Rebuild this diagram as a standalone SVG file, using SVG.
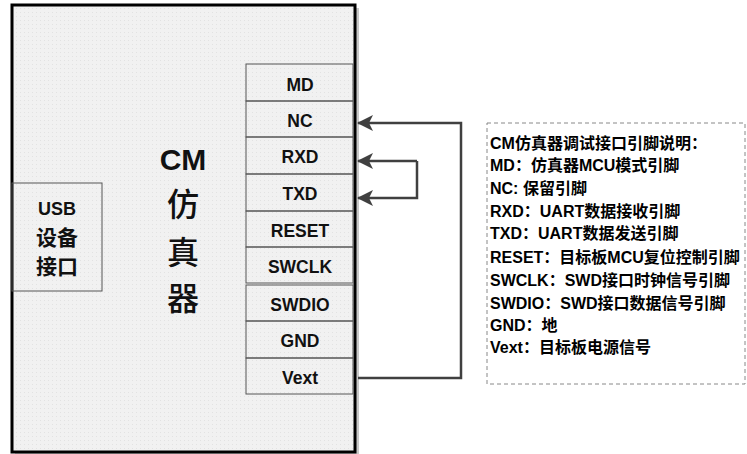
<svg xmlns="http://www.w3.org/2000/svg" width="747" height="454" viewBox="0 0 747 454">
<defs>
<style>
.pin{fill:none;stroke:#555;stroke-width:1}
.pt{font-family:"Liberation Sans","Noto Sans CJK SC",sans-serif;font-weight:bold;font-size:17.5px;fill:#111;text-anchor:middle}
.big{font-family:"Liberation Sans","Noto Sans CJK SC",sans-serif;font-weight:bold;font-size:30px;fill:#111;text-anchor:middle}
.cj{font-family:"Noto Sans CJK SC",sans-serif;font-weight:500;font-size:32px;fill:#111;text-anchor:middle}
.usb{font-family:"Liberation Sans","Noto Sans CJK SC",sans-serif;font-weight:bold;font-size:18px;fill:#111;text-anchor:middle}
.usbc{font-family:"Noto Sans CJK SC",sans-serif;font-weight:bold;font-size:21px;fill:#111;text-anchor:middle}
.lg{font-family:"Liberation Sans","Noto Sans CJK SC",sans-serif;font-weight:bold;font-size:16px;fill:#000}
.wire{fill:none;stroke:#404040;stroke-width:2.5}
</style>
<marker id="ah" viewBox="0 0 16 16" refX="15" refY="8" markerWidth="16" markerHeight="16" markerUnits="userSpaceOnUse" orient="auto">
<path d="M0,0 L16,8 L0,16 L4,8 Z" fill="#404040"/>
</marker>
<pattern id="dots" width="4" height="4" patternUnits="userSpaceOnUse">
<rect width="4" height="4" fill="#f1f1f1"/>
<rect width="1" height="1" fill="#e2e2e2"/>
</pattern>
</defs>
<g id="emulator">
<rect x="15" y="8" width="344" height="446" fill="#c8c8c8"/>
<rect x="12" y="5" width="343" height="447" fill="url(#dots)" stroke="#000" stroke-width="3"/>
<text class="big" x="183" y="170">CM</text>
<text class="cj" x="183" y="216">仿</text>
<text class="cj" x="183" y="264">真</text>
<text class="cj" x="183" y="310">器</text>
</g>
<g id="usb">
<rect x="12" y="183" width="90" height="108" fill="none" stroke="#555" stroke-width="1"/>
<text class="usb" x="57" y="215">USB</text>
<text class="usbc" x="57" y="245">设备</text>
<text class="usbc" x="57" y="274">接口</text>
</g>
<g id="pin-MD"><rect class="pin" x="246" y="64" width="107" height="37"/><text class="pt" x="300" y="91">MD</text></g>
<g id="pin-NC"><rect class="pin" x="246" y="101" width="107" height="36"/><text class="pt" x="300" y="127">NC</text></g>
<g id="pin-RXD"><rect class="pin" x="246" y="137" width="107" height="37"/><text class="pt" x="300" y="163">RXD</text></g>
<g id="pin-TXD"><rect class="pin" x="246" y="174" width="107" height="37"/><text class="pt" x="300" y="200">TXD</text></g>
<g id="pin-RESET"><rect class="pin" x="246" y="211" width="107" height="36"/><text class="pt" x="300" y="237">RESET</text></g>
<g id="pin-SWCLK"><rect class="pin" x="246" y="247" width="107" height="36"/><text class="pt" x="300" y="273">SWCLK</text></g>
<g id="pin-SWDIO"><rect class="pin" x="246" y="285" width="107" height="36"/><text class="pt" x="300" y="311">SWDIO</text></g>
<g id="pin-GND"><rect class="pin" x="246" y="321" width="107" height="37"/><text class="pt" x="300" y="347">GND</text></g>
<g id="pin-Vext"><rect class="pin" x="246" y="358" width="107" height="36"/><text class="pt" x="300" y="384">Vext</text></g>
<g id="connectors">
<path class="wire" d="M358,378 L461,378 L461,123 L358,123" marker-end="url(#ah)"/>
<path class="wire" d="M417,161 L417,198 L358,198" marker-end="url(#ah)"/>
<path class="wire" d="M417,161 L358,161" marker-end="url(#ah)"/>
</g>
<g id="legend">
<rect x="487" y="123" width="258" height="261" fill="#fff" stroke="#888" stroke-width="1" stroke-dasharray="4,3"/>
<text class="lg" x="490" y="149">CM仿真器调试接口引脚说明：</text>
<text class="lg" x="490" y="171">MD：仿真器MCU模式引脚</text>
<text class="lg" x="490" y="194">NC: 保留引脚</text>
<text class="lg" x="490" y="217">RXD：UART数据接收引脚</text>
<text class="lg" x="490" y="239">TXD：UART数据发送引脚</text>
<text class="lg" x="490" y="263">RESET：目标板MCU复位控制引脚</text>
<text class="lg" x="490" y="286">SWCLK：SWD接口时钟信号引脚</text>
<text class="lg" x="490" y="309">SWDIO：SWD接口数据信号引脚</text>
<text class="lg" x="490" y="331">GND：地</text>
<text class="lg" x="490" y="353">Vext：目标板电源信号</text>
</g>
</svg>
